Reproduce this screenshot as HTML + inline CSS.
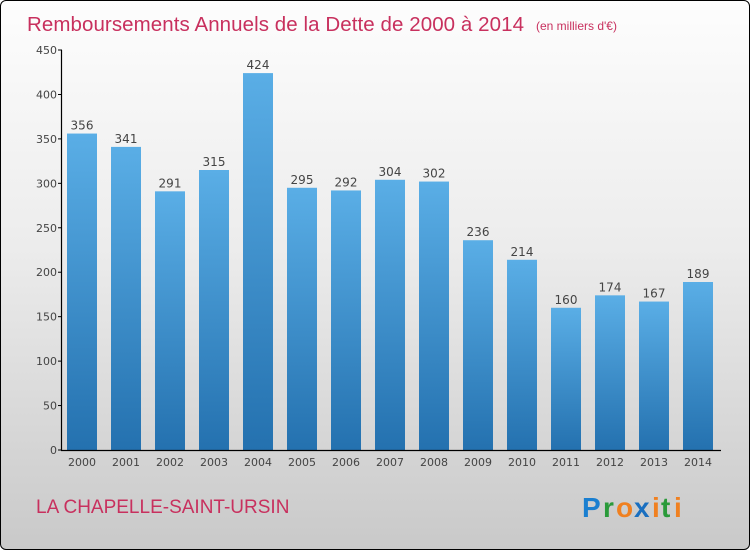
<!DOCTYPE html>
<html><head><meta charset="utf-8"><style>
html,body{margin:0;padding:0;}
body{width:750px;height:550px;overflow:hidden;font-family:"DejaVu Sans","Liberation Sans",sans-serif;}
#frame{position:absolute;left:0;top:0;width:748px;height:548px;border:1px solid #000;border-radius:6px;background:linear-gradient(#fdfdfd,#ececec 45%,#c9c9c9);overflow:hidden;}
</style></head><body>
<div id="frame">
<svg width="750" height="550" style="position:absolute;left:-1px;top:-1px">
<defs><linearGradient id="bg" x1="0" y1="0" x2="0" y2="1"><stop offset="0" stop-color="#5aaee6"/><stop offset="1" stop-color="#2471af"/></linearGradient></defs>
<text x="27" y="31" font-size="20.5" fill="#c8305e" font-family="Liberation Sans, sans-serif" textLength="497">Remboursements Annuels de la Dette de 2000 à 2014</text>
<text x="536" y="30" font-size="12" fill="#c8305e" font-family="Liberation Sans, sans-serif">(en milliers d'€)</text>
<g id="plot"></g>
<text x="36" y="513" font-size="19" fill="#c8305e" font-family="Liberation Sans, sans-serif">LA CHAPELLE-SAINT-URSIN</text>
<g font-family="Liberation Sans, sans-serif" font-size="28" font-weight="bold">
<text x="582" y="517" fill="#1a7fd0">P</text><text x="603" y="517" fill="#2a9a3a">r</text><text x="616" y="517" fill="#f08020">o</text><text x="634" y="517" fill="#1a6fc0">x</text><text x="652" y="517" fill="#f08020">i</text><text x="661" y="517" fill="#2a9a3a">t</text><text x="674" y="517" fill="#f08020">i</text>
</g>
</svg>
</div>
<script>
const categories=["2000","2001","2002","2003","2004","2005","2006","2007","2008","2009","2010","2011","2012","2013","2014"];
const values=[356,341,291,315,424,295,292,304,302,236,214,160,174,167,189];
const yTicks=[0,50,100,150,200,250,300,350,400,450];
const NS="http://www.w3.org/2000/svg";
const g=document.getElementById('plot');
const y0=450,yTop=50,yMax=450;
const y=v=>y0-(v/yMax)*(y0-yTop);
const x=i=>82+i*44;
function mk(t,a){const e=document.createElementNS(NS,t);for(const k in a)e.setAttribute(k,a[k]);g.appendChild(e);return e;}
categories.forEach((c,i)=>{
 const r=mk('rect',{x:x(i)-15,y:y(values[i]),width:30,height:y0-y(values[i]),fill:'url(#bg)'});
 
 
 const l=mk('text',{x:x(i),y:y(values[i])-4,'text-anchor':'middle','font-size':12,fill:'#444'});
 l.textContent=values[i];
 
 
 const t=mk('text',{x:x(i),y:466,'text-anchor':'middle','font-size':11,fill:'#444'});
 t.textContent=c;
 
 
});
yTicks.forEach(v=>{
 mk('line',{x1:58,x2:62,y1:y(v),y2:y(v),stroke:'#000'});
 const t=mk('text',{x:57,y:y(v)+4,'text-anchor':'end','font-size':11,fill:'#444'});
 t.textContent=v;
 
 
});
const ya=mk('line',{x1:61.5,x2:61.5,y1:yTop,y2:y0,stroke:'#000','stroke-width':1.2});


const xa=mk('line',{x1:61,x2:721,y1:450.5,y2:450.5,stroke:'#000','stroke-width':1.2});


</script>
</body></html>
